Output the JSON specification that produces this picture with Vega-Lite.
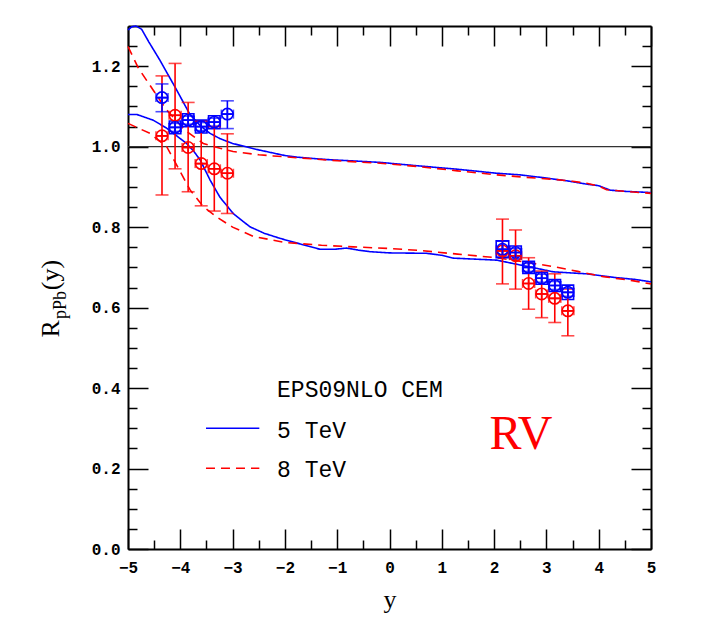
{
"$schema":"https://vega.github.io/schema/vega-lite/v6.json",
"width":523,"height":523,
"autosize":{"type":"none"},
"padding":{"left":128,"top":26,"right":51,"bottom":84},
"background":"white",
"config":{"view":{"stroke":null},"axis":{"grid":false,"domainColor":"black","domainWidth":2,"tickColor":"black","tickWidth":1.5,"labelColor":"black","labelFont":"Liberation Mono","labelFontWeight":"bold","labelFontSize":16}},
"datasets":{
"curves":[
{"curve":"5u","energy":"5 TeV","x":-5.0,"y":1.290},{"curve":"5u","energy":"5 TeV","x":-4.93,"y":1.298},{"curve":"5u","energy":"5 TeV","x":-4.85,"y":1.300},{"curve":"5u","energy":"5 TeV","x":-4.74,"y":1.292},{"curve":"5u","energy":"5 TeV","x":-4.6,"y":1.26},{"curve":"5u","energy":"5 TeV","x":-4.39,"y":1.215},{"curve":"5u","energy":"5 TeV","x":-4.1,"y":1.148},{"curve":"5u","energy":"5 TeV","x":-3.81,"y":1.079},{"curve":"5u","energy":"5 TeV","x":-3.6,"y":1.05},{"curve":"5u","energy":"5 TeV","x":-3.43,"y":1.033},{"curve":"5u","energy":"5 TeV","x":-3.24,"y":1.02},{"curve":"5u","energy":"5 TeV","x":-3.0,"y":1.008},{"curve":"5u","energy":"5 TeV","x":-2.5,"y":0.992},{"curve":"5u","energy":"5 TeV","x":-2.0,"y":0.978},{"curve":"5u","energy":"5 TeV","x":-1.77,"y":0.974},{"curve":"5u","energy":"5 TeV","x":-1.2,"y":0.968},{"curve":"5u","energy":"5 TeV","x":-0.6,"y":0.964},{"curve":"5u","energy":"5 TeV","x":-0.18,"y":0.961},{"curve":"5u","energy":"5 TeV","x":0.58,"y":0.952},{"curve":"5u","energy":"5 TeV","x":1.3,"y":0.944},{"curve":"5u","energy":"5 TeV","x":2.05,"y":0.934},{"curve":"5u","energy":"5 TeV","x":2.5,"y":0.930},{"curve":"5u","energy":"5 TeV","x":3.0,"y":0.922},{"curve":"5u","energy":"5 TeV","x":3.4,"y":0.915},{"curve":"5u","energy":"5 TeV","x":3.77,"y":0.907},{"curve":"5u","energy":"5 TeV","x":4.0,"y":0.903},{"curve":"5u","energy":"5 TeV","x":4.22,"y":0.892},{"curve":"5u","energy":"5 TeV","x":4.5,"y":0.889},{"curve":"5u","energy":"5 TeV","x":5.0,"y":0.886},
{"curve":"8u","energy":"8 TeV","x":-5.0,"y":1.249},{"curve":"8u","energy":"8 TeV","x":-4.8,"y":1.195},{"curve":"8u","energy":"8 TeV","x":-4.52,"y":1.141},{"curve":"8u","energy":"8 TeV","x":-4.26,"y":1.091},{"curve":"8u","energy":"8 TeV","x":-3.91,"y":1.041},{"curve":"8u","energy":"8 TeV","x":-3.56,"y":1.008},{"curve":"8u","energy":"8 TeV","x":-3.24,"y":0.996},{"curve":"8u","energy":"8 TeV","x":-2.99,"y":0.988},{"curve":"8u","energy":"8 TeV","x":-2.5,"y":0.98},{"curve":"8u","energy":"8 TeV","x":-2.22,"y":0.977},{"curve":"8u","energy":"8 TeV","x":-1.71,"y":0.972},{"curve":"8u","energy":"8 TeV","x":-1.0,"y":0.965},{"curve":"8u","energy":"8 TeV","x":-0.18,"y":0.959},{"curve":"8u","energy":"8 TeV","x":0.6,"y":0.95},{"curve":"8u","energy":"8 TeV","x":1.3,"y":0.94},{"curve":"8u","energy":"8 TeV","x":2.05,"y":0.930},{"curve":"8u","energy":"8 TeV","x":2.6,"y":0.924},{"curve":"8u","energy":"8 TeV","x":3.13,"y":0.919},{"curve":"8u","energy":"8 TeV","x":3.5,"y":0.914},{"curve":"8u","energy":"8 TeV","x":3.77,"y":0.909},{"curve":"8u","energy":"8 TeV","x":4.0,"y":0.902},{"curve":"8u","energy":"8 TeV","x":4.15,"y":0.893},{"curve":"8u","energy":"8 TeV","x":4.5,"y":0.889},{"curve":"8u","energy":"8 TeV","x":5.0,"y":0.884},
{"curve":"5l","energy":"5 TeV","x":-5.0,"y":1.080},{"curve":"5l","energy":"5 TeV","x":-4.83,"y":1.080},{"curve":"5l","energy":"5 TeV","x":-4.52,"y":1.066},{"curve":"5l","energy":"5 TeV","x":-4.26,"y":1.046},{"curve":"5l","energy":"5 TeV","x":-4.05,"y":1.025},{"curve":"5l","energy":"5 TeV","x":-3.88,"y":1.008},{"curve":"5l","energy":"5 TeV","x":-3.75,"y":0.99},{"curve":"5l","energy":"5 TeV","x":-3.62,"y":0.967},{"curve":"5l","energy":"5 TeV","x":-3.43,"y":0.917},{"curve":"5l","energy":"5 TeV","x":-3.24,"y":0.874},{"curve":"5l","energy":"5 TeV","x":-3.1,"y":0.852},{"curve":"5l","energy":"5 TeV","x":-2.99,"y":0.834},{"curve":"5l","energy":"5 TeV","x":-2.67,"y":0.801},{"curve":"5l","energy":"5 TeV","x":-2.4,"y":0.785},{"curve":"5l","energy":"5 TeV","x":-2.09,"y":0.772},{"curve":"5l","energy":"5 TeV","x":-1.7,"y":0.758},{"curve":"5l","energy":"5 TeV","x":-1.33,"y":0.745},{"curve":"5l","energy":"5 TeV","x":-1.05,"y":0.745},{"curve":"5l","energy":"5 TeV","x":-0.82,"y":0.748},{"curve":"5l","energy":"5 TeV","x":-0.6,"y":0.743},{"curve":"5l","energy":"5 TeV","x":-0.37,"y":0.739},{"curve":"5l","energy":"5 TeV","x":0.0,"y":0.736},{"curve":"5l","energy":"5 TeV","x":0.71,"y":0.735},{"curve":"5l","energy":"5 TeV","x":1.0,"y":0.73},{"curve":"5l","energy":"5 TeV","x":1.22,"y":0.723},{"curve":"5l","energy":"5 TeV","x":2.05,"y":0.718},{"curve":"5l","energy":"5 TeV","x":2.5,"y":0.706},{"curve":"5l","energy":"5 TeV","x":2.8,"y":0.698},{"curve":"5l","energy":"5 TeV","x":3.13,"y":0.689},{"curve":"5l","energy":"5 TeV","x":3.5,"y":0.686},{"curve":"5l","energy":"5 TeV","x":3.77,"y":0.684},{"curve":"5l","energy":"5 TeV","x":4.3,"y":0.675},{"curve":"5l","energy":"5 TeV","x":4.7,"y":0.67},{"curve":"5l","energy":"5 TeV","x":5.0,"y":0.664},
{"curve":"8l","energy":"8 TeV","x":-5.0,"y":1.058},{"curve":"8l","energy":"8 TeV","x":-4.58,"y":1.033},{"curve":"8l","energy":"8 TeV","x":-4.26,"y":1.0},{"curve":"8l","energy":"8 TeV","x":-4.03,"y":0.945},{"curve":"8l","energy":"8 TeV","x":-3.81,"y":0.892},{"curve":"8l","energy":"8 TeV","x":-3.56,"y":0.851},{"curve":"8l","energy":"8 TeV","x":-3.3,"y":0.825},{"curve":"8l","energy":"8 TeV","x":-3.0,"y":0.80},{"curve":"8l","energy":"8 TeV","x":-2.6,"y":0.777},{"curve":"8l","energy":"8 TeV","x":-2.0,"y":0.762},{"curve":"8l","energy":"8 TeV","x":-1.3,"y":0.755},{"curve":"8l","energy":"8 TeV","x":-0.69,"y":0.751},{"curve":"8l","energy":"8 TeV","x":0.0,"y":0.747},{"curve":"8l","energy":"8 TeV","x":0.58,"y":0.742},{"curve":"8l","energy":"8 TeV","x":1.3,"y":0.733},{"curve":"8l","energy":"8 TeV","x":2.05,"y":0.724},{"curve":"8l","energy":"8 TeV","x":2.6,"y":0.713},{"curve":"8l","energy":"8 TeV","x":3.13,"y":0.702},{"curve":"8l","energy":"8 TeV","x":3.6,"y":0.69},{"curve":"8l","energy":"8 TeV","x":4.09,"y":0.677},{"curve":"8l","energy":"8 TeV","x":4.6,"y":0.668},{"curve":"8l","energy":"8 TeV","x":5.0,"y":0.659}
],
"points":[
{"energy":"8 TeV","x":-4.35,"y":1.027,"ylo":0.880,"yhi":1.176,"xlo":-4.465,"xhi":-4.235},
{"energy":"8 TeV","x":-4.10,"y":1.078,"ylo":0.945,"yhi":1.207,"xlo":-4.215,"xhi":-3.985},
{"energy":"8 TeV","x":-3.85,"y":0.998,"ylo":0.888,"yhi":1.110,"xlo":-3.965,"xhi":-3.735},
{"energy":"8 TeV","x":-3.60,"y":0.958,"ylo":0.853,"yhi":1.063,"xlo":-3.715,"xhi":-3.485},
{"energy":"8 TeV","x":-3.35,"y":0.945,"ylo":0.840,"yhi":1.050,"xlo":-3.465,"xhi":-3.235},
{"energy":"8 TeV","x":-3.10,"y":0.934,"ylo":0.834,"yhi":1.032,"xlo":-3.215,"xhi":-2.985},
{"energy":"8 TeV","x":2.16,"y":0.741,"ylo":0.659,"yhi":0.820,"xlo":2.045,"xhi":2.275},
{"energy":"8 TeV","x":2.41,"y":0.729,"ylo":0.646,"yhi":0.793,"xlo":2.295,"xhi":2.525},
{"energy":"8 TeV","x":2.66,"y":0.660,"ylo":0.596,"yhi":0.724,"xlo":2.545,"xhi":2.775},
{"energy":"8 TeV","x":2.91,"y":0.634,"ylo":0.575,"yhi":0.691,"xlo":2.795,"xhi":3.025},
{"energy":"8 TeV","x":3.16,"y":0.623,"ylo":0.563,"yhi":0.684,"xlo":3.045,"xhi":3.275},
{"energy":"8 TeV","x":3.41,"y":0.592,"ylo":0.530,"yhi":0.646,"xlo":3.295,"xhi":3.525},
{"energy":"5 TeV","x":-4.35,"y":1.122,"ylo":1.087,"yhi":1.156,"xlo":-4.465,"xhi":-4.235},
{"energy":"5 TeV","x":-4.10,"y":1.048,"ylo":1.038,"yhi":1.058,"xlo":-4.215,"xhi":-3.985},
{"energy":"5 TeV","x":-3.85,"y":1.066,"ylo":1.056,"yhi":1.076,"xlo":-3.965,"xhi":-3.735},
{"energy":"5 TeV","x":-3.60,"y":1.050,"ylo":1.040,"yhi":1.060,"xlo":-3.715,"xhi":-3.485},
{"energy":"5 TeV","x":-3.35,"y":1.061,"ylo":1.051,"yhi":1.071,"xlo":-3.465,"xhi":-3.235},
{"energy":"5 TeV","x":-3.10,"y":1.081,"ylo":1.045,"yhi":1.114,"xlo":-3.215,"xhi":-2.985},
{"energy":"5 TeV","x":2.16,"y":0.745,"ylo":0.727,"yhi":0.765,"xlo":2.045,"xhi":2.275},
{"energy":"5 TeV","x":2.41,"y":0.737,"ylo":0.727,"yhi":0.747,"xlo":2.295,"xhi":2.525},
{"energy":"5 TeV","x":2.66,"y":0.700,"ylo":0.690,"yhi":0.710,"xlo":2.545,"xhi":2.775},
{"energy":"5 TeV","x":2.91,"y":0.673,"ylo":0.663,"yhi":0.683,"xlo":2.795,"xhi":3.025},
{"energy":"5 TeV","x":3.16,"y":0.655,"ylo":0.645,"yhi":0.665,"xlo":3.045,"xhi":3.275},
{"energy":"5 TeV","x":3.41,"y":0.638,"ylo":0.628,"yhi":0.648,"xlo":3.295,"xhi":3.525}
],
"boxes":[
{"energy":"5 TeV","xlo":-4.21,"xhi":-3.99,"ylo":1.032,"yhi":1.064},
{"energy":"5 TeV","xlo":-3.96,"xhi":-3.74,"ylo":1.050,"yhi":1.082},
{"energy":"5 TeV","xlo":-3.71,"xhi":-3.49,"ylo":1.034,"yhi":1.066},
{"energy":"5 TeV","xlo":-3.46,"xhi":-3.24,"ylo":1.045,"yhi":1.077},
{"energy":"5 TeV","xlo":2.04,"xhi":2.28,"ylo":0.724,"yhi":0.766},
{"energy":"5 TeV","xlo":2.30,"xhi":2.52,"ylo":0.721,"yhi":0.753},
{"energy":"5 TeV","xlo":2.55,"xhi":2.77,"ylo":0.685,"yhi":0.715},
{"energy":"5 TeV","xlo":2.80,"xhi":3.02,"ylo":0.658,"yhi":0.688},
{"energy":"5 TeV","xlo":3.05,"xhi":3.27,"ylo":0.640,"yhi":0.670},
{"energy":"5 TeV","xlo":3.30,"xhi":3.52,"ylo":0.620,"yhi":0.656}
],
"legend":[
{"energy":"5 TeV","x1":-3.509,"x2":-2.489,"y":0.300},
{"energy":"8 TeV","x1":-3.509,"x2":-2.489,"y":0.2006}
],
"labels":[
{"role":"legend","x":-2.15,"y":0.377,"text":"EPS09NLO CEM"},
{"role":"legend","x":-2.15,"y":0.275,"text":"5 TeV"},
{"role":"legend","x":-2.15,"y":0.178,"text":"8 TeV"},
{"role":"rv","x":2.514,"y":0.2486,"text":"RV"},
{"role":"big","x":-6.31,"y":0.547,"text":"R"},
{"role":"sub","x":-6.19,"y":0.6065,"text":"pPb"},
{"role":"big","x":-6.31,"y":0.681,"text":"(y)"}
]
},
"resolve":{"axis":{"x":"independent","y":"independent"}},
"layer":[
{"data":{"values":[{"ref":1}]},"mark":{"type":"rule","color":"#333333","strokeWidth":1.2},
 "encoding":{"y":{"field":"ref","type":"quantitative","scale":{"domain":[0,1.3],"nice":false,"zero":false},"axis":null}}},
{"data":{"name":"curves"},"mark":{"type":"line","strokeWidth":1.6},
 "encoding":{
  "x":{"field":"x","type":"quantitative","scale":{"domain":[-5,5],"nice":false,"zero":false},
   "axis":{"orient":"bottom","values":[-5,-4,-3,-2,-1,0,1,2,3,4,5],"format":"d","tickSize":-20,
     "labelPadding":30,"labelFlush":false,"labelOverlap":false,
     "title":"y","titleFont":"Liberation Serif","titleFontSize":26,"titleFontWeight":"normal","titlePadding":11}},
  "y":{"field":"y","type":"quantitative","scale":{"domain":[0,1.3],"nice":false,"zero":false},
   "axis":{"orient":"left","values":[0,0.2,0.4,0.6,0.8,1,1.2],"format":".1f","tickSize":-20,"labelPadding":28,"labelOverlap":false,"title":null}},
  "color":{"field":"energy","type":"nominal","scale":{"domain":["5 TeV","8 TeV"],"range":["#0000ff","#ff0000"]},"legend":null},
  "strokeDash":{"field":"energy","type":"nominal","scale":{"domain":["5 TeV","8 TeV"],"range":[[1,0],[9,6]]},"legend":null},
  "detail":{"field":"curve"}}},
{"data":{"name":"boxes"},"mark":{"type":"rect","fill":null,"fillOpacity":0,"strokeWidth":1.6},
 "encoding":{
  "x":{"field":"xlo","type":"quantitative","axis":{"orient":"bottom","values":[-4.5,-3.5,-2.5,-1.5,-0.5,0.5,1.5,2.5,3.5,4.5],"tickSize":-9,"labels":false,"domain":false,"title":null}},
  "x2":{"field":"xhi"},
  "y":{"field":"ylo","type":"quantitative","axis":{"orient":"left","values":[0.05,0.1,0.15,0.25,0.3,0.35,0.45,0.5,0.55,0.65,0.7,0.75,0.85,0.9,0.95,1.05,1.1,1.15,1.25],"tickSize":-9,"labels":false,"domain":false,"title":null}},
  "y2":{"field":"yhi"},
  "stroke":{"field":"energy","type":"nominal","scale":{"domain":["5 TeV","8 TeV"],"range":["#0000ff","#ff0000"]},"legend":null}}},
{"data":{"name":"points"},"mark":{"type":"rule","strokeWidth":1.6},
 "encoding":{"x":{"field":"x","type":"quantitative","axis":null},"y":{"field":"ylo","type":"quantitative","axis":null},"y2":{"field":"yhi"},
  "color":{"field":"energy","type":"nominal","legend":null}}},
{"data":{"name":"points"},"mark":{"type":"rule","strokeWidth":1.6},
 "encoding":{"x":{"field":"xlo","type":"quantitative","axis":null},"x2":{"field":"xhi"},"y":{"field":"y","type":"quantitative","axis":null},
  "color":{"field":"energy","type":"nominal","legend":null}}},
{"data":{"name":"points"},"mark":{"type":"tick","orient":"horizontal","size":13,"thickness":1.6},
 "encoding":{"x":{"field":"x","type":"quantitative","axis":null},"y":{"field":"ylo","type":"quantitative","axis":null},"color":{"field":"energy","type":"nominal","legend":null}}},
{"data":{"name":"points"},"mark":{"type":"tick","orient":"horizontal","size":13,"thickness":1.6},
 "encoding":{"x":{"field":"x","type":"quantitative","axis":null},"y":{"field":"yhi","type":"quantitative","axis":null},"color":{"field":"energy","type":"nominal","legend":null}}},
{"data":{"name":"points"},"mark":{"type":"tick","orient":"vertical","size":9,"thickness":1.6},
 "encoding":{"x":{"field":"xlo","type":"quantitative","axis":null},"y":{"field":"y","type":"quantitative","axis":null},"color":{"field":"energy","type":"nominal","legend":null}}},
{"data":{"name":"points"},"mark":{"type":"tick","orient":"vertical","size":9,"thickness":1.6},
 "encoding":{"x":{"field":"xhi","type":"quantitative","axis":null},"y":{"field":"y","type":"quantitative","axis":null},"color":{"field":"energy","type":"nominal","legend":null}}},
{"data":{"name":"points"},"mark":{"type":"point","shape":"circle","size":130,"filled":false,"strokeWidth":1.6,"opacity":1},
 "encoding":{"x":{"field":"x","type":"quantitative","scale":{"domain":[-5,5],"nice":false,"zero":false},
   "axis":{"orient":"top","values":[-5,-4,-3,-2,-1,0,1,2,3,4,5],"tickSize":-20,"labels":false,"title":null}},
  "y":{"field":"y","type":"quantitative","scale":{"domain":[0,1.3],"nice":false,"zero":false},
   "axis":{"orient":"right","values":[0,0.2,0.4,0.6,0.8,1,1.2],"tickSize":-20,"labels":false,"title":null}},
  "stroke":{"field":"energy","type":"nominal","scale":{"domain":["5 TeV","8 TeV"],"range":["#0000ff","#ff0000"]},"legend":null}}},
{"data":{"name":"points"},"mark":{"type":"point","shape":"M-1,0L1,0M0,-1L0,1","size":130,"filled":false,"strokeWidth":1.6,"opacity":1},
 "encoding":{
  "x":{"field":"x","type":"quantitative","axis":{"orient":"top","values":[-4.5,-3.5,-2.5,-1.5,-0.5,0.5,1.5,2.5,3.5,4.5],"tickSize":-9,"labels":false,"domain":false,"title":null}},
  "y":{"field":"y","type":"quantitative","axis":{"orient":"right","values":[0.05,0.1,0.15,0.25,0.3,0.35,0.45,0.5,0.55,0.65,0.7,0.75,0.85,0.9,0.95,1.05,1.1,1.15,1.25],"tickSize":-9,"labels":false,"domain":false,"title":null}},
  "stroke":{"field":"energy","type":"nominal","legend":null}}},
{"data":{"name":"legend"},"mark":{"type":"rule","strokeWidth":1.6},
 "encoding":{"x":{"field":"x1","type":"quantitative","axis":null},"x2":{"field":"x2"},"y":{"field":"y","type":"quantitative","axis":null},
  "color":{"field":"energy","type":"nominal","legend":null},
  "strokeDash":{"field":"energy","type":"nominal","legend":null}}},
{"data":{"name":"labels"},"transform":[{"filter":"datum.role === 'legend'"}],
 "mark":{"type":"text","font":"Liberation Mono","fontSize":23,"align":"left","baseline":"alphabetic","color":"black"},
 "encoding":{"x":{"field":"x","type":"quantitative","axis":null},"y":{"field":"y","type":"quantitative","axis":null},"text":{"field":"text"}}},
{"data":{"name":"labels"},"transform":[{"filter":"datum.role === 'rv'"}],
 "mark":{"type":"text","font":"Liberation Serif","fontSize":48,"align":"center","baseline":"alphabetic","color":"#ff0000"},
 "encoding":{"x":{"field":"x","type":"quantitative","axis":null},"y":{"field":"y","type":"quantitative","axis":null},"text":{"field":"text"}}},
{"data":{"name":"labels"},"transform":[{"filter":"datum.role === 'big'"}],
 "mark":{"type":"text","font":"Liberation Serif","fontSize":26,"align":"center","baseline":"alphabetic","angle":270,"color":"black"},
 "encoding":{"x":{"field":"x","type":"quantitative","axis":null},"y":{"field":"y","type":"quantitative","axis":null},"text":{"field":"text"}}},
{"data":{"name":"labels"},"transform":[{"filter":"datum.role === 'sub'"}],
 "mark":{"type":"text","font":"Liberation Serif","fontSize":18,"align":"center","baseline":"alphabetic","angle":270,"color":"black"},
 "encoding":{"x":{"field":"x","type":"quantitative","axis":null},"y":{"field":"y","type":"quantitative","axis":null},"text":{"field":"text"}}}
]
}
